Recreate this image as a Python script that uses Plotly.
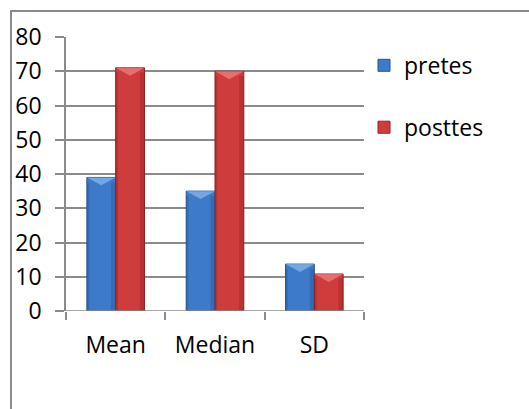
import plotly.graph_objects as go

# Summary statistics for the two test rounds
categories = ["Mean", "Median", "SD"]
pretes = [39, 35, 13.7]
posttes = [71, 70, 10.8]
y_ticks = [0, 10, 20, 30, 40, 50, 60, 70, 80]

W, H = 529, 409
ML, MR, MT, MB = 66, 165, 37, 98

bargap = 0.42
bw = (1 - bargap) / 2          # width of one bar in axis units
bevel = 2.3                     # depth of the highlighted top facet (y units)
edge_frac = 0.16                # share of the bar width given to side shading

x_idx = list(range(len(categories)))

series = [
    ("pretes", pretes, -bw / 2, "#3d7bca", "#27558f", "#86baf0", "#22508c"),
    ("posttes", posttes, bw / 2, "#cf3c3c", "#8e2222", "#f08482", "#8a1f1f"),
]

fig = go.Figure()
for name, vals, off, fill, edge, light, dark in series:
    fig.add_trace(go.Bar(
        name=name, x=x_idx, y=vals, legendgroup=name,
        marker=dict(color=fill, line=dict(color=edge, width=1)),
        hoverinfo="skip",
    ))


def facet(x0, x1, y0, y1):
    return [x0, x1, x1, x0, x0, None], [y0, y0, y1, y1, y0, None]


for name, vals, off, fill, edge, light, dark in series:
    # darker strips along both sides of each bar
    sx, sy = [], []
    tx, ty = [], []
    for i, v in zip(x_idx, vals):
        xc = i + off
        xl, xr = xc - bw / 2, xc + bw / 2
        a, b = facet(xr - bw * edge_frac, xr, 0, v - bevel * 0.6)
        sx += a; sy += b
        a, b = facet(xl, xl + bw * edge_frac * 0.5, 0, v - bevel * 0.6)
        sx += a; sy += b
        # lighter chevron facet at the top
        tx += [xl, xr, xc, xl, None]
        ty += [v, v, v - bevel, v, None]
    fig.add_trace(go.Scatter(
        x=sx, y=sy, mode="lines", fill="toself", fillcolor=dark,
        line=dict(width=0), opacity=0.35, showlegend=False, hoverinfo="skip",
    ))
    fig.add_trace(go.Scatter(
        x=tx, y=ty, mode="lines", fill="toself", fillcolor=light,
        line=dict(width=0), opacity=0.7, showlegend=False, hoverinfo="skip",
    ))

grid = "#8a8a8a"
fig.update_layout(
    width=W, height=H,
    margin=dict(l=ML, r=MR, t=MT, b=MB),
    paper_bgcolor="white", plot_bgcolor="white",
    barmode="group", bargap=bargap, bargroupgap=0,
    font=dict(family="Open Sans", size=23, color="#000000"),
    showlegend=True,
    legend=dict(
        x=1.0, xanchor="left", y=0.975, yanchor="top",
        font=dict(size=23), tracegroupgap=29, itemwidth=30,
        bgcolor="rgba(0,0,0,0)",
    ),
    xaxis=dict(
        range=[-0.5, 2.5], tickvals=x_idx, ticktext=categories,
        ticks="", showgrid=False, zeroline=False,
        showline=False, ticklabelstandoff=18,
        minor=dict(tickvals=[-0.5, 0.5, 1.5, 2.5], ticks="outside",
                   ticklen=8, tickwidth=1.5, tickcolor=grid, showgrid=False),
        fixedrange=True,
    ),
    yaxis=dict(
        range=[0, 80], tickvals=y_ticks, ticks="outside", ticklen=9,
        tickwidth=1.5, tickcolor=grid,
        showgrid=True, gridcolor=grid, gridwidth=1.5,
        zeroline=False, showline=True, linecolor=grid, linewidth=1.5,
        ticklabelstandoff=9, fixedrange=True,
    ),
)

# x baseline and outer chart frame
fig.add_shape(type="line", xref="paper", yref="y", x0=0, x1=1, y0=0, y1=0,
              line=dict(color=grid, width=1.5))
fig.add_shape(type="rect", xref="paper", yref="paper",
              x0=(11 - ML) / (W - ML - MR), x1=3,
              y0=-2, y1=(H - MB - 11) / (H - MT - MB),
              line=dict(color="#8a8a8a", width=2), layer="below")

fig.write_html("out.html")
